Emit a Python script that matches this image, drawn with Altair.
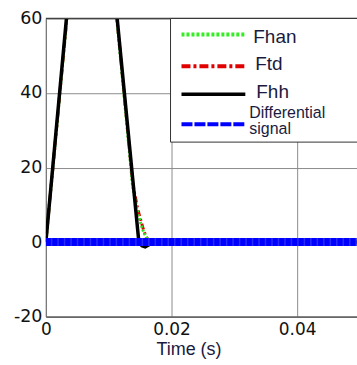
import altair as alt
import pandas as pd

# ---- data ----
t_fhh = [0, 0.0072, 0.0148, 0.0153, 0.0158, 0.0164, 0.0170, 0.0495]
y_fhh = [0, 132, 0, -1.0, -1.3, -0.7, 0, 0]

t_ftd = [0, 0.0073, 0.0138, 0.0146, 0.0150, 0.0155, 0.0160, 0.0167, 0.0495]
y_ftd = [0, 131, 16, 9, 6.5, 3.5, 1.2, 0, 0]

t_fhan = [0, 0.0073, 0.0138, 0.0146, 0.0151, 0.0156, 0.0162, 0.0170, 0.0495]
y_fhan = [0, 131, 15, 8, 5, 2.5, 0.8, 0, 0]

t_diff = [0, 0.0495]
y_diff = [0, 0]

legend_labels = ["Fhan", "Ftd", "Fhh", "Differential", "signal"]

x_ticks = [0, 0.02, 0.04]
y_ticks = [-20, 0, 20, 40, 60]
X_MAX = 0.04952

FONT = "Liberation Sans"
TICKFONT = "DejaVu Sans"

xs = alt.Scale(domain=[0, X_MAX], nice=False, zero=False)
ys = alt.Scale(domain=[-20, 60], nice=False)

def df(t, y):
    return pd.DataFrame({"t": t, "y": y})

xaxis = alt.Axis(values=x_ticks, format="~g", grid=True, gridColor="#8c8c8c", gridWidth=1,
                 ticks=False, labelFont=TICKFONT, labelFontSize=17, labelColor="#111",
                 labelPadding=5, labelBaseline="top", domainColor="#555", domainWidth=1.2,
                 title="Time (s)", titleFont=FONT, titleFontSize=18, titleFontWeight="normal",
                 titleColor="#1a1a40", titleX=143, titleY=38, titleAlign="center",
                 titleBaseline="alphabetic", labelFlush=False)
yaxis = alt.Axis(values=y_ticks, grid=True, gridColor="#8c8c8c", gridWidth=1, ticks=False,
                 labelFont=TICKFONT, labelFontSize=17.5, labelColor="#111", labelPadding=4,
                 labelExpr="replace(datum.label, '\u2212', '-')",
                 domainColor="#777", domainWidth=1, title=None, labelFlush=False)

base_x = alt.X("t:Q", scale=xs, axis=xaxis)
base_y = alt.Y("y:Q", scale=ys, axis=yaxis)

grid_layer = alt.Chart(df(t_diff, y_diff)).mark_line(opacity=0).encode(x=base_x, y=base_y)

fhh = alt.Chart(df(t_fhh, y_fhh)).mark_line(color="black", strokeWidth=3.5, clip=True).encode(
    x=alt.X("t:Q", scale=xs), y=alt.Y("y:Q", scale=ys))
ftd = alt.Chart(df(t_ftd, y_ftd)).mark_line(color="#e00000", strokeWidth=3, strokeDash=[6, 3, 2, 3], clip=True).encode(
    x=alt.X("t:Q", scale=xs), y=alt.Y("y:Q", scale=ys))
fhan = alt.Chart(df(t_fhan, y_fhan)).mark_line(color="#33dd22", strokeWidth=3, strokeDash=[2, 2], clip=True).encode(
    x=alt.X("t:Q", scale=xs), y=alt.Y("y:Q", scale=ys))
diff_bg = alt.Chart(df(t_diff, y_diff)).mark_line(color="#2a2aff", strokeWidth=8, clip=True).encode(
    x=alt.X("t:Q", scale=xs), y=alt.Y("y:Q", scale=ys))
diff = alt.Chart(df(t_diff, y_diff)).mark_line(color="#0000ff", strokeWidth=8, strokeDash=[5, 1.5], clip=True).encode(
    x=alt.X("t:Q", scale=xs), y=alt.Y("y:Q", scale=ys))

top_rule = alt.Chart(df([0], [0])).mark_rule(color="#444", strokeWidth=1.2).encode(
    x=alt.value(0), x2=alt.value(320), y=alt.value(0))

# legend (decoration)
leg_box = alt.Chart(df([0], [0])).mark_rect(fill="white", stroke="#333", strokeWidth=1).encode(
    x=alt.value(125), x2=alt.value(330), y=alt.value(0), y2=alt.value(124))

def leg_line(y, color, dash, w):
    kw = dict(color=color, strokeWidth=w)
    if dash:
        kw["strokeDash"] = dash
    return alt.Chart(df([0], [0])).mark_rule(**kw).encode(
        x=alt.value(136), x2=alt.value(200), y=alt.value(y))

def leg_text(label, x, y, size):
    return alt.Chart(df([0], [0])).mark_text(text=label, font=FONT, fontSize=size, align="left",
                                             baseline="alphabetic", color="#1a1a40").encode(
        x=alt.value(x), y=alt.value(y))

legend = [
    leg_box,
    leg_line(16, "#33ee22", [3, 2], 4),
    leg_line(48, "#e00000", [9, 3, 3, 3], 4),
    leg_line(76, "black", None, 3.5),
    leg_line(106, "#0000ff", [11, 2], 4),
    leg_text(legend_labels[0], 208, 25, 19),
    leg_text(legend_labels[1], 210, 52, 19),
    leg_text(legend_labels[2], 211, 80, 19),
    leg_text(legend_labels[3], 204, 100, 16),
    leg_text(legend_labels[4], 204, 116, 16),
]

chart = alt.layer(grid_layer, ftd, fhan, fhh, diff_bg, diff, top_rule, *legend).properties(
    width=312, height=299,
    padding={"left": 46, "top": 18, "right": 0, "bottom": 48},
    autosize=alt.AutoSizeParams(type="none"),
    background="white",
).configure_view(stroke="#999", strokeWidth=1)

chart.save("out.html", embed_options={"renderer": "svg", "actions": False})
